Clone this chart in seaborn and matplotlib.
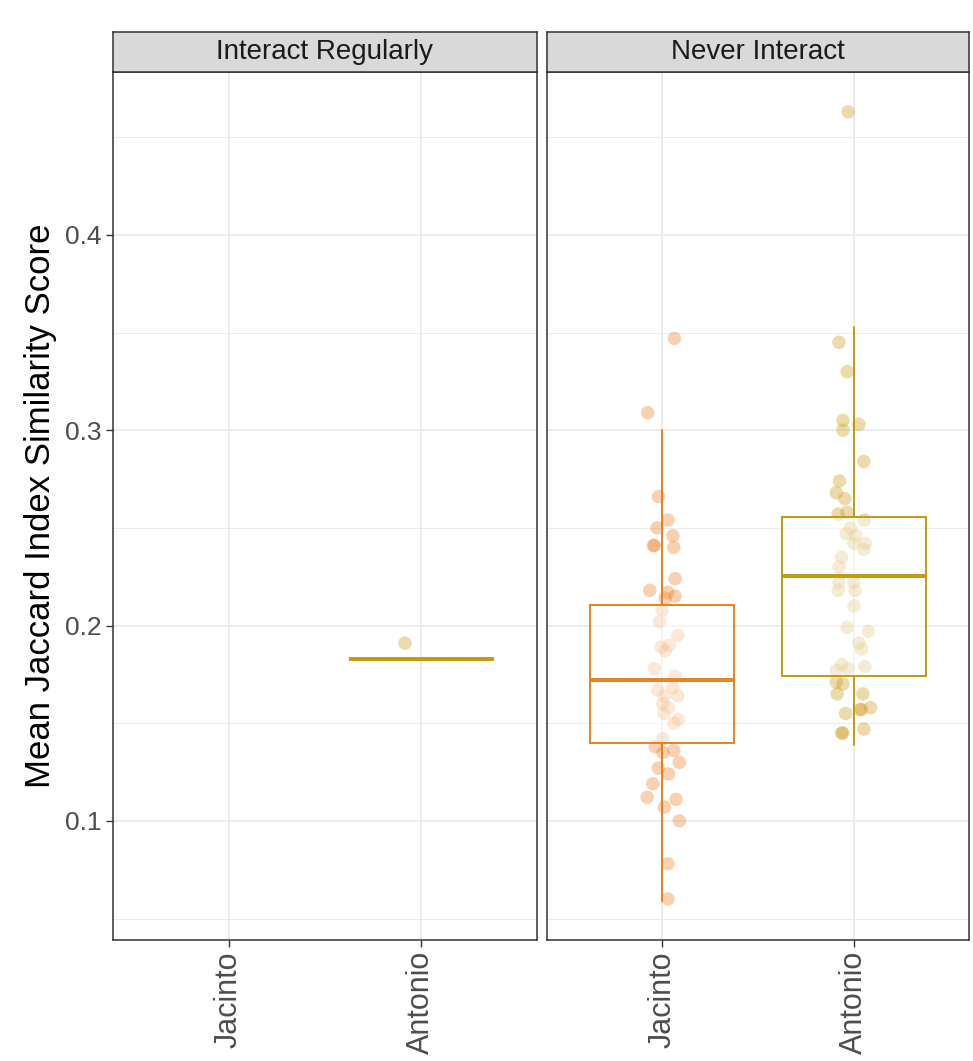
import matplotlib
matplotlib.use("Agg")
import matplotlib.pyplot as plt
import pandas as pd
import seaborn as sns

# categories and facets
SITES = ["Jacinto", "Antonio"]
FACETS = ["Interact Regularly", "Never Interact"]
SITE_COLORS = {"Jacinto": "#EC7F1E", "Antonio": "#C9970E"}

# jittered points (value, horizontal jitter)
reg_antonio_y = [0.191]
reg_antonio_dx = [-0.085]

never_jacinto_y = [
    0.347, 0.309, 0.266, 0.254, 0.250, 0.246, 0.241, 0.241, 0.240, 0.224,
    0.218, 0.217, 0.215, 0.214, 0.208, 0.202, 0.195, 0.189, 0.190, 0.187,
    0.178, 0.174, 0.168, 0.167, 0.164, 0.164, 0.160, 0.158, 0.155, 0.152,
    0.150, 0.142, 0.138, 0.135, 0.136, 0.130, 0.127, 0.124, 0.119, 0.112,
    0.111, 0.107, 0.100, 0.078, 0.060,
]
never_jacinto_dx = [
    0.064, -0.075, -0.019, 0.030, -0.026, 0.056, -0.045, -0.040, 0.061, 0.068,
    -0.064, 0.030, 0.068, 0.016, 0.000, -0.014, 0.082, -0.005, 0.038, 0.016,
    -0.040, 0.068, 0.056, -0.022, 0.082, 0.012, 0.004, 0.033, 0.009, 0.085,
    0.061, 0.004, -0.036, 0.004, 0.061, 0.090, -0.019, 0.033, -0.048, -0.078,
    0.073, 0.012, 0.090, 0.030, 0.030,
]

never_antonio_y = [
    0.463, 0.345, 0.330, 0.305, 0.303, 0.300, 0.284, 0.274, 0.268, 0.265,
    0.257, 0.258, 0.254, 0.250, 0.247, 0.246, 0.242, 0.242, 0.239, 0.235,
    0.230, 0.222, 0.222, 0.218, 0.218, 0.210, 0.199, 0.197, 0.191, 0.188,
    0.179, 0.180, 0.177, 0.178, 0.171, 0.170, 0.165, 0.165, 0.157, 0.157,
    0.158, 0.155, 0.145, 0.145, 0.147,
]
never_antonio_dx = [
    -0.030, -0.078, -0.035, -0.057, 0.026, -0.057, 0.052, -0.075, -0.092, -0.047,
    -0.082, -0.035, 0.054, -0.017, -0.040, 0.009, 0.000, 0.061, 0.052, -0.064,
    -0.078, -0.078, 0.000, -0.082, 0.005, 0.000, -0.035, 0.075, 0.026, 0.040,
    0.057, -0.064, -0.092, -0.030, -0.092, -0.057, -0.087, 0.047, 0.030, 0.040,
    0.087, -0.043, -0.063, -0.058, 0.052,
]

# box summaries: facet, site, whisker low, q1, median, q3, whisker high
box_facet = ["Interact Regularly", "Never Interact", "Never Interact"]
box_site = ["Antonio", "Jacinto", "Antonio"]
box_whislo = [0.183, 0.059, 0.139]
box_q1 = [0.183, 0.140, 0.174]
box_med = [0.183, 0.172, 0.2255]
box_q3 = [0.183, 0.2105, 0.2555]
box_whishi = [0.183, 0.300, 0.353]

points = pd.concat(
    [
        pd.DataFrame({"facet": "Interact Regularly", "site": "Antonio",
                      "value": reg_antonio_y, "dx": reg_antonio_dx}),
        pd.DataFrame({"facet": "Never Interact", "site": "Jacinto",
                      "value": never_jacinto_y, "dx": never_jacinto_dx}),
        pd.DataFrame({"facet": "Never Interact", "site": "Antonio",
                      "value": never_antonio_y, "dx": never_antonio_dx}),
    ],
    ignore_index=True,
)
points["x"] = points["site"].map({s: i for i, s in enumerate(SITES)}) + points["dx"]

boxes = pd.DataFrame({
    "facet": box_facet, "site": box_site, "whislo": box_whislo, "q1": box_q1,
    "med": box_med, "q3": box_q3, "whishi": box_whishi,
})

sns.set_style("white")
plt.rcParams["font.family"] = ["Liberation Sans", "DejaVu Sans"]

W, H = 973, 1061
fig = plt.figure(figsize=(W / 100, H / 100), dpi=100)

panels = [(113, 424), (547, 422)]
panel_top, panel_bottom, strip_top = 72, 940, 32
ylim = (0.039, 0.4834)

for idx, (facet, (px, pw)) in enumerate(zip(FACETS, panels)):
    ax = fig.add_axes([px / W, 1 - panel_bottom / H, pw / W, (panel_bottom - panel_top) / H])
    ax.set_xlim(-0.6, 1.6)
    ax.set_ylim(*ylim)

    # grid like theme_bw
    for y in [0.05, 0.15, 0.25, 0.35, 0.45]:
        ax.axhline(y, color="#EBEBEB", lw=0.7, zorder=0)
    for y in [0.1, 0.2, 0.3, 0.4]:
        ax.axhline(y, color="#EBEBEB", lw=1.3, zorder=0)
    for x in range(len(SITES)):
        ax.axvline(x, color="#EBEBEB", lw=1.3, zorder=0)

    sub = points[points["facet"] == facet]
    sns.scatterplot(
        data=sub, x="x", y="value", hue="site", palette=SITE_COLORS,
        hue_order=SITES, s=95, alpha=0.35, edgecolor="none", legend=False,
        ax=ax, zorder=2,
    )

    for _, row in boxes[boxes["facet"] == facet].iterrows():
        pos = SITES.index(row["site"])
        color = SITE_COLORS[row["site"]]
        stats = [{
            "whislo": row["whislo"], "q1": row["q1"], "med": row["med"],
            "q3": row["q3"], "whishi": row["whishi"], "fliers": [],
        }]
        ax.bxp(
            stats, positions=[pos], widths=0.75, patch_artist=True,
            showcaps=False, showfliers=False, manage_ticks=False,
            boxprops=dict(facecolor=(1, 1, 1, 0.5), edgecolor=color, linewidth=1.4),
            medianprops=dict(color=color, linewidth=2.8, solid_capstyle="butt"),
            whiskerprops=dict(color=color, linewidth=1.4),
            zorder=3,
        )

    ax.set_xticks(range(len(SITES)))
    ax.set_xticklabels(SITES, rotation=90, fontsize=22, color="#4D4D4D")
    ax.set_yticks([0.1, 0.2, 0.3, 0.4])
    ax.set_xlabel("")
    ax.tick_params(axis="both", which="both", length=5, width=1, color="#333333",
                   direction="out", bottom=True, left=(idx == 0), pad=3)
    if idx == 0:
        ax.set_yticklabels(["0.1", "0.2", "0.3", "0.4"], fontsize=19, color="#4D4D4D")
        ax.set_ylabel("Mean Jaccard Index Similarity Score", fontsize=25, color="black",
                      labelpad=6)
    else:
        ax.set_yticklabels([])
        ax.set_ylabel("")
    for spine in ax.spines.values():
        spine.set_visible(True)
        spine.set_color("#333333")
        spine.set_linewidth(1.1)

    strip = fig.add_axes([px / W, 1 - panel_top / H, pw / W, (panel_top - strip_top) / H])
    strip.set_facecolor("#D9D9D9")
    strip.set_xticks([])
    strip.set_yticks([])
    for spine in strip.spines.values():
        spine.set_visible(True)
        spine.set_color("#333333")
        spine.set_linewidth(1.1)
    strip.text(0.5, 0.5, facet, ha="center", va="center", fontsize=20,
               color="#1A1A1A", transform=strip.transAxes)

fig.savefig("out.png", dpi=100)
plt.close(fig)
